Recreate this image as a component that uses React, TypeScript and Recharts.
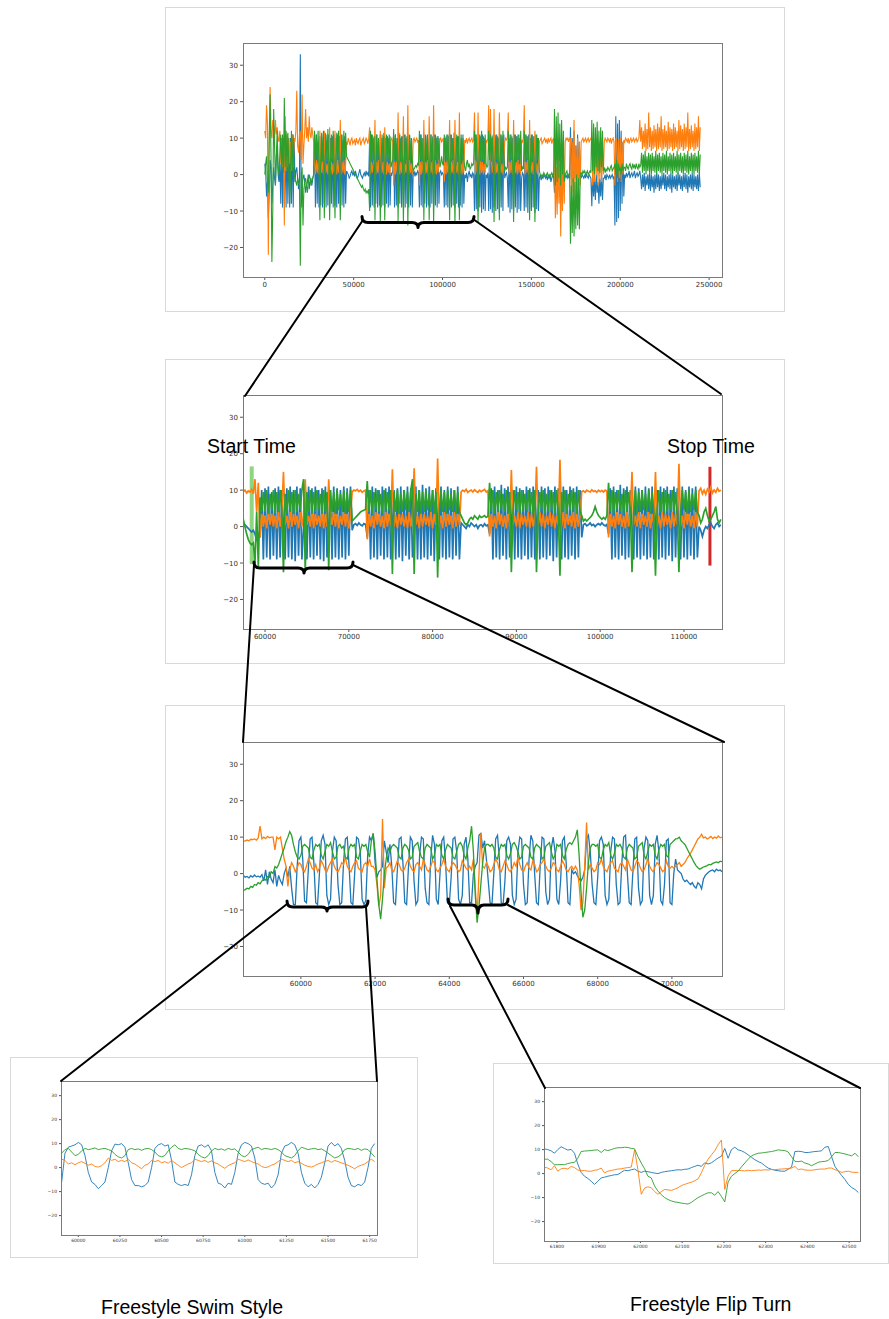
import React from "react";
import { LineChart, Line, XAxis, YAxis, ReferenceLine } from "recharts";

const BLUE = "#1f77b4";
const ORANGE = "#ff7f0e";
const GREEN = "#2ca02c";

const Y_DOMAIN: [number, number] = [-28.1, 36.1];
const Y_TICKS = [-20, -10, 0, 10, 20, 30];

// ---- panel 1: whole session, one sample per 500 (20 per row) ----
const P1_START = 0;
const P1_STEP = 500;
const P1_DOMAIN: [number, number] = [-12250, 257250];
const p1Ticks = [0, 50000, 100000, 150000, 200000, 250000];
const p1Blue = [
  3, 1, -6, -2, -12, -5, 4, 2, -8, -3, 2, -1, -3, 5, 8, 0, -2, 3, -8, 10,
  -9, 10, -8, 9, -9, 11, -8, 10, -9, 10, -8, 11, -9, 10, -2, 1, 2, -1, -4, -2,
  33, -9, -3, -1, 0, -2, -5, -3, -2, 0, -4, -2, -1, -3, -1, 0, 10, -9, 11, -8,
  9, -9, 10.5, -8.5, 11, -9, 10, -8, 11.5, -9, 9.5, -8.5, 11, -9, 10, -8, 10.5, -9, 11, -8.5,
  10, -9, 11, -8, 10.5, -9, 11, -8.5, 9.5, -9, 10.5, -8, 1, 0.5, 0, -1, -0.5, 0.5, 1, 0,
  0.5, -0.5, 1, 0, -1, -0.5, 0.5, 1.5, 0, -0.5, -1, 0, 0.5, -0.5, 1, 0, 0.5, -0.5, 10, -9,
  11, -8.5, 10, -9, 10.5, -8, 11, -9, 9.5, -8.5, 11, -9, 10, -8.5, 11.5, -9, 10, -8, 10.5, -9,
  11, -8.5, 0.5, 0, 1, 10.5, -9, 11, -8.5, 10, -9, 11.5, -8, 10, -9, 10.5, -8.5, 11, -9, 10,
  -8, 11, -9, 10.5, -8.5, 10, -9, 0, 1, -0.5, 0.5, 0, 1, 0.5, -9, 11, -8.5, 10, -9, 11,
  -8, 10.5, -9, 11, -8.5, 10, -9, 11, -8, 10.5, -9, 11, -8.5, 10, -9, 10.5, -8, 0.5, 1, 0,
  0.5, 0, -9, 10, -8.5, 11, -9, 10.5, -8, 11, -9, 10, -8.5, 11.5, -9, 10, -8, 10.5, -9, 11,
  -8.5, 10, -9, 11, -8, 0, -1, 0.5, -2, 0, 1, -0.5, 0, -1, 0.5, 0, -10, 11, -9.5, 10,
  -10, 11, -9, 10.5, -10.5, 11, -9.5, 10, -10, 0, -1, 0.5, -10, 11, -9.5, 10, -10.5, 11, -9, 10.5,
  -10, 11, -9.5, 10, -10.5, 11, -9, 10.5, -10, 11, -1, 0, 0.5, -1, -9, 10, -10.5, 11, -9.5, 10,
  -10, 11, -9, 10.5, -10.5, 11, -9.5, 10, -10, -1, 0.5, 0, -10, 11, -9, 10.5, -10.5, 11, -9.5, 10,
  -10, 11, -9, 10.5, -10.5, 11, -9.5, 10, -10, -1, 0, -1.5, -0.5, -1, 0, -0.5, -1, 0, -1.5, -0.5,
  -1, 0, -2, -1, 0, -0.5, -5, 0, -4, -1, -3, 0, -5, -2, -4, 0, -3, -1, 0, -1,
  0, -1, -0.5, -1, 13, -1, 10, -2, 12, -1, 8, 0, 11, -1, 9, 0, -1, 0, -0.5, -1,
  0, -1, 0, -0.5, -1, 0, -0.5, -1, -8.7, 0, -6, -1, -7, 0, -5, -2, -8, -1, -6, 0,
  -7, -1, -1, 0, -1.5, 0, -0.5, -1, 0, -1, -0.5, 0, -1, -0.5, -14, 16, -13, 14, -12, 15,
  -10, 12, -8, 9, -6, 0, -1, 0.5, -0.5, 0, 1, -1, 0, 0.5, -0.5, 0, 1, -1, 0, 0.5,
  -0.5, 0, 1, -1, -4, 0, -3.5, 0.5, -4.5, -0.5, -3, 0, -4, 0.5, -4.5, 0, -3.5, -0.5, -5, 0,
  -4, 0.5, -3.5, 0, -4.5, -0.5, -4, 0, -3, 0.5, -4, 0, -4.5, -0.5, -3.5, 0, -4, 0.5, -5, 0,
  -3.5, -0.5, -4, 0, -4.5, 0.5, -3, 0, -4, -0.5, -4.5, 0, -3.5, 0.5, -4, 0, -5, -0.5, -3.5, 0,
  -4, 0.5, -4.5, 0, -3.5, -0.5, -4, 0, -4.5, 0.5, -3.5,
];
const p1Orange = [
  12, 10, 19, 14, -22, 10, 24, 12, 10, 15, 13, 10, 15, 11, 13, 10, 9, 12, 3, 10,
  2, 10, -14, 16, 1, 11, 2, 10, 3, 9, 1, 11, 2, 10, 9, 12, 23, 8, 6, 11,
  12, 4, 22, 3, 8, 12, 18, 10, 13, 9, 16, 11, 10, 13, 11, 9, 3, 0, 4, 0.5,
  3.5, 0, 12, 3, 0.5, 4, 0, 12, 3.5, 0.5, 3, 0, 4, 13, 0.5, 3.5, 0, 3, 0.5, 12,
  3.5, 0, 4, 0.5, 3, 15, 0, 3.5, 0.5, 4, 0, 3, 9, 8.5, 10, 9, 8, 9.5, 10, 8.5,
  9, 9.5, 8, 10, 9, 8.5, 9.5, 10, 8, 9, 9.5, 10, 8.5, 9, 10, 9.5, 8.5, 10, 13, 0,
  3.5, 0.5, 3, 4, 15, 0, 3.5, 0.5, 4, 0, 12, 3, 0.5, 3.5, 0, 13, 4, 0, 3.5, 0.5,
  3, 0, 9.5, 10, 9, -3, 3.5, 0, 4, 0.5, 17, 3, 0, 3.5, 0.5, 4, 16, 0, 3, 0.5,
  3.5, 19, 0, 4, 0.5, 3, 0, 9.5, 10, 9, 9.5, 10, 9, 9.5, -3, 3.5, 0, 4, 0.5, 15,
  0, 3.5, 0.5, 4, 0, 16, 3, 0.5, 3.5, 0, 19, 0.5, 4, 0, 3, 0.5, 3.5, 9.5, 10, 9,
  9.5, 10, -2, 3.5, 0, 4, 0.5, 3, 15, 0, 3.5, 0.5, 4, 0, 15, 3, 0.5, 3.5, 0, 17,
  0.5, 3, 0, 4, 0.5, 9.5, 9, 10, 8.5, 9.5, 10, 9, 9.5, 10, 9, 9.5, 17, 0, 3.5, 0.5,
  17, 3, 0, 4, 0.5, 3.5, 0, 3, 0.5, 9.5, 9, 10, 19, 0, 18, 3.5, 0.5, 3, 18, 0,
  3.5, 0.5, 3, 0, 17, 4, 0.5, 3, 0, 3.5, 9, 10, 9.5, 10, 17, 0, 3.5, 0.5, 4, 0,
  15, 3, 0.5, 3.5, 0, 4, 0.5, 3, 0, 9.5, 9, 10, 19, 0, 3.5, 0.5, 4, 0, 15, 3,
  0.5, 3.5, 0, 4, 12, 0.5, 3, 0, 3.5, 9, 9.5, 10, 8.5, 9, 9.5, 10, 9, 9.5, 8.5, 10,
  9, 9.5, 10, 8.5, 9.5, 10, 4, -12, 2, -11, 5, -8, 3, -17, 4, -10, 5, -8, 9, 10,
  9.5, 10, 9, 10, 10, -7, 9, -5, 15, -6, 8, -4, 10, -7, 9, -3, 9, 9.5, 10, 9,
  9.5, 10, 9, 9.5, 10, 9, 9.5, 10, 10, -3, 9, -2, 10, 0, 8, -3, 9, -1, 10, -2,
  8, 0, 9, 10, 9.5, 9, 10, 9.5, 9, 10, 8.5, 9.5, 10, 9, -3, 10, 9, -2, 9.5, -1,
  10, -2, 9, 0, 9.5, 9, 10, 9.5, 9, 10, 8.5, 9.5, 10, 9, 9.5, 10, 9, 9.5, 10, 9,
  9.5, 10, 15, 9, 13, 7, 12, 7.5, 14, 6.5, 12.5, 7, 17, 7.5, 13, 6.5, 12, 7, 13.5, 7.5,
  12.5, 6.5, 14, 7, 13, 7.5, 16, 6.5, 12.5, 7, 13.5, 7.5, 12, 6.5, 14.5, 7, 13, 7.5, 12.5, 6.5,
  14, 7, 13, 7.5, 12, 6.5, 15, 7, 13.5, 7.5, 12.5, 6.5, 14, 7, 13, 7.5, 17, 6.5, 12.5, 7,
  13.5, 7.5, 12, 6.5, 14, 7, 13, 7.5, 16, 6.5, 13,
];
const p1Green = [
  0, 3, 5, -2, -5, 10, 22, 5, -24, -10, 18, 8, -3, 5, 12, 2, 0, 6, 11, 1,
  11, 0.5, 21, 2, 12, 1, 11.5, 3, -8, 0, 12, 1, 11, 0, -1, -2, -3, -1, -2, -3,
  -25, 0, 2, -14, -4, -2, -1, -3, -5, -2, 0, -1, -3, -2, -1, 0, 12, 3.5, 11, 4,
  12, 3, -12.5, 4, 11.5, 3.5, 12, -12, 3.5, 11, 4, 12.5, 3, -12.5, 4, 11, 3.5, 12, 4, -12,
  3.5, 11.5, 4, 12, 3, -12.5, 4, 11, 3.5, 12, 4, 11.5, 5, 4.5, 4, 3.5, 3, 2.5, 2, 1.5,
  1, 0.5, 0, -0.5, -1, -1.5, -2, -2.5, -3, -3.5, -3, -4, -4.5, -4, -5, -4.5, -5, -4, -10, 12,
  3.5, 11, 4, 10.5, -12.5, 3.5, 11, 4, 10, 3, -13, 4, 11, 3.5, 10.5, -12.5, 4, 11, 3.5, 10,
  4, 10.5, 2, 3, 4, 12.5, 4, 11, 3.5, 10, -13, 4, 11, 3.5, 10.5, 4, -13, 3.5, 11, 4,
  10.5, -14, 4, 11, 3.5, 10, 4, 1, 1.5, 2, 2.5, 2, 3, 2.5, 12, 4, 11, 3.5, 10, -12.5,
  4, 11, 3.5, 10.5, 4, -12.5, 3.5, 11, 4, 10, -13.5, 4, 11, 3.5, 10.5, 4, 10, 2, 3, 5,
  3, 2.5, 11, 4, 10.5, 3.5, 11, 4, -12.5, 3.5, 11, 4, 10, 3.5, -13.5, 4, 11, 3.5, 10.5, -12.5,
  4, 11, 3.5, 10, 4, 2, 1, 3, 4, 2, 3, 1.5, 2, 3, 2.5, 3, 12, 4, 11, 3.5,
  -13, 4, 11, 3.5, 12, 4, 10.5, 3, 11, 3, 2, 2.5, 12, 4, 11, 3.5, 10.5, 4, -13, 3.5,
  11, 4, 10.5, 3.5, -12.5, 4, 11, 3, 12, 4, 1, 2, 1.5, 2, 12, 3.5, 11, 4, 10.5, 3,
  -13, 4, 11, 3.5, 10.5, 4, 11, 3, 12, 1, 2, 1.5, 12, 3.5, 11, 4, 10.5, 3, -12.5, 4,
  11, 3.5, 10.5, 4, -13, 3.5, 11, 4, 10, 1, 0, -0.5, 0, -1, 0.5, 0, -0.5, 0, 0.5, -0.5,
  0, -0.5, 0, 0.5, -0.5, 0, 18, -3, 16, -2, 17, -1, 14, -3, 15, 0, 12, -2, 0, 0.5,
  1, -0.5, 0, 0.5, -19, -3, -16, -1, -17, -2, -15, 0, -14, -1, -15, 0, 0.5, 0, 1, 0.5,
  1, 0, 0.5, 1, 0, 0.5, 1, 0.5, 15, 1, 14, 0, 13, 2, 14.5, 1, 12, 0.5, 13, 2,
  12, 1, 2, 0.5, 1.5, 1, 2, 1.5, 1, 2, 2.5, 1, 1.5, 2, 3, 0, 4, -1, 3, 1,
  2, 0, 3, 1, 2, 2, 1, 3, 2, 1.5, 2.5, 3, 2, 1.5, 3, 2, 2.5, 1.5, 3, 2,
  1.5, 3, 2, 2.5, 6, 0.5, 5.5, 1, 6.5, 0, 5, 1, 6, 0.5, 5.5, 0, 6, 1, 5, 0.5,
  6.5, 0, 5.5, 1, 6, 0.5, 5, 0, 6, 1, 5.5, 0.5, 6.5, 0, 5, 1, 6, 0.5, 5.5, 0,
  6, 1, 5, 0.5, 6.5, 0, 5.5, 1, 6, 0.5, 5, 0, 6, 1, 5.5, 0.5, 6.5, 0, 5, 1,
  6, 0.5, 5.5, 0, 6, 1, 5, 0.5, 6.5, 0, 5.5,
];

// ---- panel 2: first swim set, one sample per 200 ----
const P2_START = 57400;
const P2_STEP = 200;
const P2_DOMAIN: [number, number] = [57370, 114540];
const p2Ticks = [60000, 70000, 80000, 90000, 100000, 110000];
const startMarker = { t: 58410, top: 16.5, bottom: -10.3 };
const stopMarker = { t: 113100, top: 16.4, bottom: -10.7 };
const p2Blue = [
  1, 0.5, 0, -0.5, -1, -1.5, -1, -2, -4, -2,
  -3, 10, -9, 10.5, -8.5, 11, -9, 9.5, -8, 10.5,
  -9, 11, -8.5, 10, 0, -9, 10.5, -8.5, 11, -9,
  10, -9.5, 11, -8, 10.5, -9, 0, 10, -9, 11,
  -8.5, 10.5, -9, 11, -8, 10, -9, 10.5, -9.5, 11,
  -8.5, 0, 10, -9, 11, -8.5, 10.5, -9, 10, -8.5,
  11, -9, 10.5, -8, 11, -1, 0.5, 0.8, 0.3, 1,
  0.5, 0.2, 0.8, 0.6, -3, 10, -9, 11, -8.5, 10.5,
  -9, 10, -8, 11, -9, 10.5, -8.5, 11, -9, 0,
  10, -9, 10.5, -8.5, 11, -9.5, 10, -8, 11, -9,
  10.5, -8.5, 0, 11, -9, 10, -9, 11.5, -8.5, 10.5,
  -9, 11, -8, 10, -9.5, 10.5, 0, -9, 11, -8.5,
  10, -9, 11, -8.5, 10.5, -9, 10, -8, 11, -9,
  1, 0.5, 0, -0.5, 0.5, 0, 1, 0.5, 0, 0.5,
  -0.5, 0.3, 0.5, 0, 0.8, 0.2, 0.5, -2, 10.5, -9,
  11, -8.5, 10, -9, 11.5, -8, 10.5, -9, 11, -8.5,
  0, 10, -9, 11, -8.5, 10.5, -9, 10, -8, 11,
  -9, 10.5, -8.5, 11, -9, 0, 10, -9, 11, -8.5,
  10.5, -9, 11, -8, 10, -9.5, 11, -8.5, 10.5, 0,
  -9, 11, -8.5, 10, -9, 11, -8, 10.5, -9, 11,
  -8.5, 10, -3, 0.5, 0.8, 0.2, 0.5, 1, 0.3, 0.6,
  0, 0.5, 0.8, 0.4, 1, 0.5, 0.2, 0.6, -2, 10.5,
  -9, 11, -8.5, 10, -9, 11.5, -8, 10.5, -9, 11,
  -8.5, 10, 0, -9, 11, -8.5, 10.5, -9, 10, -8,
  11, -9, 10.5, -8.5, 11, -9, 0, 10, -9, 11,
  -8.5, 10.5, -9, 11, -8, 10, -9.5, 11, -8.5, 10.5,
  0, -9, 11, -8.5, 10, -9, 11, -8, 10.5, -9,
  11, -8.5, 0, -1, -2.7, -1, 0, -0.5, 0.5, 1,
  0, -0.5, 0.5, 1, 0, 0.5,
];
const p2Orange = [
  9.5, 10, 9.2, 9.8, 9.5, 10.2, 9, 13, 4, 12,
  -3, 3.5, 0, 3, -0.5, 4, 0.5, 3.5, 0, 3,
  -0.5, 4, 0, 3.5, 15, 0.5, 3, -0.5, 4, 0,
  3.5, 0.5, 3, -0.5, 4, 0, 3.5, 13, 0.5, 3,
  0, 4, -0.5, 3.5, 0.5, 3, 0, 4, -0.5, 3.5,
  0, 13, 3, 0.5, 4, 0, 3.5, -0.5, 3, 0.5,
  4, 0, 3.5, -0.5, 3, 9.5, 10, 9.8, 10.2, 9.6,
  10, 9.4, 9.8, 10, -3.5, 3.5, 0, 3, -0.5, 4,
  0.5, 3.5, 0, 3, -0.5, 4, 0, 3.5, 0.5, 15.7,
  0, 3, -0.5, 4, 0.5, 3.5, 0, 3, -0.5, 4,
  0, 3.5, 16, 0.5, 3, -0.5, 4, 0, 3.5, 0.5,
  3, 0, 4, -0.5, 3.5, 0.5, 18.7, 0, 3, -0.5,
  4, 0, 3.5, 0.5, 3, -0.5, 4, 0, 3.5, 0.5,
  9.5, 10, 9.6, 10.2, 9.4, 9.8, 10, 9.5, 10.1, 9.7,
  9.4, 10, 9.6, 9.9, 10.2, 9.5, 9.8, -2.7, 3.5, 0,
  3, -0.5, 4, 0.5, 3.5, 0, 3, -0.5, 4, 0,
  15.5, 0.5, 3, 0, 4, -0.5, 3.5, 0.5, 3, 0,
  4, -0.5, 3.5, 0, 3, 16.4, 0.5, 4, 0, 3.5,
  -0.5, 3, 0.5, 4, 0, 3.5, -0.5, 3, 0.5, 18.3,
  0, 4, -0.5, 3.5, 0.5, 3, 0, 4, -0.5, 3.5,
  0, 3, 9.6, 9.8, 9.4, 10, 9.7, 9.5, 10.1, 9.6,
  9.8, 9.4, 10, 9.6, 9.9, 9.5, 10, 9.7, -3, 3.5,
  0, 3, -0.5, 4, 0.5, 3.5, 0, 3, -0.5, 4,
  0, 3.5, 15, 0.5, 3, 0, 4, -0.5, 3.5, 0.5,
  3, 0, 4, -0.5, 3.5, 0.5, 15, 0, 3, -0.5,
  4, 0, 3.5, 0.5, 3, -0.5, 4, 0, 3.5, 0.5,
  17.2, 0, 3, -0.5, 4, 0.5, 3.5, 0, 3, -0.5,
  4, 0, 9.8, 10.5, 9, 10, 8.8, 10.3, 9.5, 10.8,
  9.2, 10, 9.4, 10.5, 9.7, 10,
];
const p2Green = [
  2, 0, -2, -3.5, -4.5, -5, -4.5, -10, 4, -11,
  8, 4, 9.5, 4, 10, 3.5, 9, 4.5, 10, 3.5,
  9.5, 4, 10, 4, -12.5, 9, 3.5, 10, 4, 9.5,
  3.5, 10, 4, 9, 4.5, 10, 13, -12.5, 9.5, 4,
  10, 3.5, 9.5, 4, 10, 4.5, 9, 3.5, 10, 4,
  9.5, -12, 10, 4, 9.5, 3.5, 10, 4.5, 9, 4,
  10, 3.5, 9.5, 4, 10, 1.5, 2, 2.5, 3, 3.5,
  4, 4.3, 4.5, 4.7, 12.5, 4, 10, 3.5, 9.5, 4.5,
  10, 4, 9, 3.5, 10, 4, 9.5, 4.5, 10, -13,
  9.5, 4, 10, 3.5, 9, 4, 10, 4.5, 9.5, 4,
  10, 13, -13, 9, 4, 10, 3.5, 9.5, 4, 10,
  4.5, 9, 4, 10, 3.5, 9.5, -14, 4, 10, 4,
  9.5, 3.5, 10, 4.5, 9, 4, 10, 3.5, 9.5, 4,
  3, 2, 1, 0.5, 1, 2, 2.5, 2, 3, 2.5,
  2, 3, 2.5, 2.7, 3, 2.5, 2.8, 12, 4, 10,
  3.5, 9.5, 4, 10, 4.5, 9, 4, 10, 3.5, 9.5,
  -12.5, 4, 10, 4.5, 9.5, 3.5, 10, 4, 9, 4.5,
  10, 4, 9.5, 3.5, 10, -12.5, 4, 9.5, 4.5, 10,
  3.5, 9, 4, 10, 4.5, 9.5, 3.5, 10, 4, -13.5,
  9.5, 4, 10, 3.5, 9, 4.5, 10, 4, 9.5, 3.5,
  10, 4, 3, 1.5, 2, 1.5, 2, 2.5, 3, 4,
  5.5, 4, 3, 2.5, 2, 2.5, 2, 3, 12, 4,
  10, 3.5, 9.5, 4.5, 10, 4, 9, 3.5, 10, 4,
  9.5, 4.5, -12.5, 4, 10, 3.5, 9.5, 4, 10, 4.5,
  9, 4, 10, 3.5, 9.5, 4, -13.5, 4.5, 10, 4,
  9.5, 3.5, 10, 4, 9, 4.5, 10, 4, 9.5, 3.5,
  -12.5, 4, 10, 4.5, 9.5, 3.5, 10, 4, 9, 4.5,
  10, 4, 3, 1, 2, 4, 5, 3, 1.5, 2,
  3, 4, 5.5, 2, 1, 2,
];

// ---- panel 3: a few lengths, one sample per 50 ----
const P3_START = 58450;
const P3_STEP = 50;
const P3_DOMAIN: [number, number] = [58440, 71350];
const p3Ticks = [60000, 62000, 64000, 66000, 68000, 70000];
const p3Blue = [
  -0.5, -1, -0.8, -1.2, -0.6, -1, -0.4, -0.9, -0.7, -1,
  -0.3, -2, 1, -3, 0.5, -1.5, -2.5, 1, -3.5, -0.5,
  -2, -3, 0, 1.5, -1, 2, -4, -8.5, -8.5, 2,
  9, 10, 4, -7.5, -8, 1, 9.5, 10, 3, -8,
  -8.5, 0, 9, 10.5, 8, -6, -8.5, -7, 6, 10,
  9, -3, -8.5, -8, 3, 9.5, 10, 2, -8, -8.5,
  0, 10, 9.5, 6, -7, -8.5, -7.5, 5, 10, 9,
  11, 3, -1, 0.5, 1, 2, 9, 6, 3, 8,
  2, -8, -8.5, 1, 9.5, 10, 3, -8, -8.5, 2,
  10, 9, -2, -8.5, -7.5, 5, 10, 9.5, -4, -8,
  -8.5, 4, 10.5, 8, -7, -8.5, 0, 9, 10, 3,
  -8, -8.5, -1, 9.5, 10, 6, -7, -8.5, -6, 8,
  10, 4, -8, -8, 0, 2, 3, 10.5, 11, 7,
  9, 4, -2, -8, -8.5, 0, 9.5, 10.5, 4, -8,
  -8.5, -2, 9, 10, 8, -6, -8.5, -7, 6, 10,
  9.5, -3, -8.5, -8, 4, 10.5, 9, 0, -8, -8.5,
  2, 10, 9.5, -5, -8.5, -7, 7, 10, 6, -7,
  -8.5, -2, 9, 10, 3, -8, -8.5, 1, 0, 0.5,
  -0.5, -1.5, -2, -1, 1, 9.5, 10.5, 6, -3, -8,
  -8.5, -1, 9, 10, 8, -6, -8.5, -7, 6, 10,
  9.5, -3, -8.5, -8, 3, 10, 10.5, 0, -8, -8.5,
  1, 9.5, 10, -4, -8.5, -7.5, 7, 10, 9, -6,
  -8.5, -6, 8, 10.5, 6, -7.5, -8.5, -3, 9, 9.5,
  -8, -8.5, 0, 4, 1, 0.5, 0, -1.5, -2.2, -1.8,
  -2.5, -3, -2.5, -3.5, -4, -2.5, -3, -4.2, -1.5, -0.5,
  0, 0.5, 0.8, 1, 0.5, 1.2, 0.8, 1, 0.5,
];
const p3Orange = [
  8.8, 9, 9.2, 9, 9.4, 9.3, 9.5, 9.2, 9.8, 13,
  9.5, 10, 9.6, 10.2, 9.8, 10, 10, 6.5, 10, 9.5,
  10, 7, 4, 2, -3.5, 1, 3, 2, 0.5, 1.5,
  3, 2.5, 1, 0.5, 2, 4, 3, 1.5, 1, 2.5,
  0.5, 1.5, 3.5, 2.5, 1, 0.5, 2, 3, 4, 2,
  1, 0.5, 1.5, 3, 2.5, 4.5, 2, 1, 0.5, 2,
  3, 3.5, 1.5, 1, 0.5, 2.5, 3, 2, 4, 2,
  2, 1, -3, -9, -6, 15, -4, 1.5, 2, 3,
  1, 0.5, 2, 3.5, 2.5, 1, 0.5, 1.5, 3, 4,
  2, 1, 0.5, 2.5, 3, 2, 1, 4, 2.5, 1,
  0.5, 2, 3.5, 3, 1, 0.5, 1.5, 2.5, 4, 2,
  1, 0.5, 2, 3, 2.5, 1.5, 0.5, 1, 3.5, 2.5,
  1.5, 1, 2, 1, 4, -4, -12, 0, 11, 2,
  1.5, 3, 2, 0.5, 1, 2.5, 4, 3, 1, 0.5,
  2, 3.5, 2.5, 1, 0.5, 1.5, 3, 2, 4.5, 2.5,
  1, 0.5, 2, 3, 1.5, 1, 3.5, 2.5, 0.5, 1,
  2.5, 3, 4, 2, 1, 0.5, 1.5, 3, 2.5, 1,
  0.5, 2, 3.5, 2.5, 1, 0.5, 1.5, 2, 1, 2,
  1, -3, -10, -8, 2, 14, 1, 2.5, 1.5, 0.5,
  1, 3, 2.5, 4, 2, 1, 0.5, 2, 3, 3.5,
  1.5, 1, 0.5, 2.5, 3, 2, 1, 4, 2.5, 1,
  0.5, 2, 3.5, 3, 1.5, 0.5, 1, 2.5, 4, 2,
  1, 0.5, 2, 3, 2.5, 1.5, 0.5, 1, 3.5, 2,
  1.5, 2, 1.5, 2, 2.5, 3, 2, 2.5, 3, 4,
  4.8, 5.5, 6.5, 7.5, 8.5, 9.5, 10, 10.8, 9.8, 10,
  9.5, 9.8, 10.2, 9.6, 10, 9.7, 10.3, 9.8, 10,
];
const p3Green = [
  -4.6, -4.4, -4, -4.2, -3.5, -3.8, -3, -3.2, -2.5, -2.8,
  -2, -1.5, -1.8, -0.8, -1, 0.5, 0, 1.9, 1.5, 2.5,
  4, 5.6, 7, 8.8, 10, 11.5, 10.5, 8, 6, 4.5,
  4, 5, 7.5, 8, 7.5, 7, 4.5, 4, 6.5, 8,
  7.5, 8, 5, 4, 6, 8, 7.5, 8.5, 6, 4,
  4.5, 7.5, 8, 7, 7.5, 4.5, 4, 7, 8, 7.5,
  8, 4.5, 4, 6, 8, 7.5, 8, 6, 4.5, 9,
  11, 6, -1.5, -8.5, -12.5, -7, 0, 4, 7, 6,
  7.5, 8, 7.5, 7, 4.5, 4, 7, 8, 7.5, 6.5,
  4, 4.5, 7.5, 8, 8.5, 6, 4.5, 4, 7, 8,
  7.5, 7, 4, 5, 8, 7.5, 8, 5, 4, 6.5,
  8, 7.5, 7, 4.5, 4, 6, 8, 8.5, 7.5, 5,
  4, 7, 9, 13, 6, -6, -13.5, -9, -3, 3,
  7, 8, 8, 7.5, 8, 7, 4.5, 4, 6.5, 8,
  7.5, 8, 5, 4, 5.5, 8, 8.5, 7.5, 6, 4,
  4.5, 7.5, 8, 7.5, 7, 4.5, 4, 7, 8, 7.5,
  7, 4, 4.5, 7.5, 8, 8.5, 6, 4, 5, 8,
  7.5, 8, 5, 4, 6.5, 8, 8.5, 8, 9, 10,
  12, 5, -5, -12, -10, -4, 3, 7, 8, 8,
  7.5, 8, 4.5, 4, 6.5, 8, 7.5, 8.5, 5, 4,
  5.5, 8, 7.5, 8, 7, 4.5, 4, 7, 8, 7.5,
  7, 4, 4.5, 7.5, 8, 8.5, 5, 4, 6, 8,
  7.5, 8, 5, 4, 6.5, 8, 7.5, 8, 5, 4.5,
  8, 8.5, 9, 9.5, 9.6, 10, 9, 8.5, 8, 7,
  6, 5, 4, 3, 2.2, 1.6, 1.2, 1.5, 1.8, 2,
  2.2, 2.5, 2.4, 2.8, 3, 3.2, 3, 3.4, 3.3,
];

// ---- bottom left: freestyle strokes, one sample per 20 ----
const P4_START = 59900;
const P4_STEP = 20;
const P4_DOMAIN: [number, number] = [59896, 61794];
const p4Ticks = [60000, 60250, 60500, 60750, 61000, 61250, 61500, 61750];
const p4Blue = [
  -6, 6, 8.5, 9, 9.5, 10.5, 9.5, 5, -2, -6,
  -7, -8.8, -7.5, -6, 0, 7, 9.8, 9.5, 10, 8.5,
  2, -5, -7.5, -7.5, -8, -7.5, -6, 0, 8, 9.5,
  10, 9, 9.5, 3, -6, -7, -7.5, -7, -7.5, -3,
  5, 9, 9.5, 8.5, 9.5, 7, -2, -6.5, -7, -8.5,
  -6.5, -7, -2, 6, 9.5, 10.5, 10, 9, 4, -5,
  -6.5, -7, -6.5, -8.5, -7, -3, 6, 9, 9.5, 10.5,
  9.5, 6, -2, -6.5, -8, -7, -8.5, -7, -4, 2,
  9, 10.5, 9, 10, 8, 3, -4, -7.5, -8, -7,
  -7.5, -6, 0, 8, 10,
];
const p4Orange = [
  3.5, 3, 1.5, 2, 1.2, 2, 2.5, 1.8, 1, 1.5,
  0.5, 0.2, 0.8, 2, 4, 3, 3.5, 2.5, 3, 2.5,
  3.5, 2, 1.5, 0.5, -0.5, 1, 1.5, 3, 2.5, 3,
  2, 2.5, 1.8, 3, 2, 1, 0, 0.8, 1.5, 2,
  3.5, 3, 2.5, 3, 2.2, 2.8, 2, 1.5, 0.5, -0.3,
  0.8, 1.5, 2, 3.5, 3, 2.5, 3.2, 2.5, 2, 1.5,
  0.5, 0, 0.3, 1, 1.5, 2.5, 3.5, 3, 2.5, 3,
  2, 2.5, 1.8, 1, 0.5, 0.2, 0.8, 1.5, 2, 2.5,
  3, 2.2, 3, 2.5, 2, 1.5, 1, 0.3, -0.5, 0.5,
  1, 1.5, 2.5, 3.5, 2.5,
];
const p4Green = [
  6, 7.5, 8, 6.5, 5, 5.5, 7, 8, 7.5, 7.8,
  8.2, 7.5, 7.8, 8, 7.5, 7, 5.5, 4.5, 4, 5,
  7.5, 8, 7.5, 7.8, 7.2, 7.8, 8, 7.5, 6.5, 5,
  4.5, 5, 7, 8.5, 9.5, 8, 7.5, 8, 7.8, 7.5,
  7, 5.5, 4.5, 4, 5, 7, 8, 7.5, 7.8, 7.2,
  8, 7.5, 7.8, 6.5, 5, 4.5, 5.5, 7.5, 8, 8.5,
  7.5, 8, 7.8, 7.5, 8, 7.5, 6.5, 5, 4.5, 4,
  5, 7, 8.5, 8, 7.5, 7.8, 8, 7.5, 7.8, 7,
  6, 5, 4, 4.5, 5.5, 7.5, 8, 7.8, 7.5, 8,
  7.2, 7.8, 7.5, 6, 4.5,
];

// ---- bottom right: flip turn, one sample per 8 ----
const P5_START = 61770;
const P5_STEP = 8;
const P5_DOMAIN: [number, number] = [61769, 62526];
const p5Ticks = [61800, 61900, 62000, 62100, 62200, 62300, 62400, 62500];
const p5Blue = [
  10.3, 10, 9.5, 8.5, 10, 11.2, 10.5, 9.8, 10.1, 8.5,
  4, 0.5, -1.1, -2, -3.2, -4.5, -3.2, -1.8, -1.5, -1.1,
  -0.8, -0.5, -0.4, 0.5, 1.4, 1.2, 1.6, 1.9, 1, 0.5,
  1, 0.8, 0.5, 0.2, 0, 0.5, 0.8, 1, 1.2, 1.4,
  1.6, 1.5, 1.8, 1.9, 2.5, 3, 3.5, 3, 4.5, 4,
  4.5, 5.5, 6.5, 7.2, 10.5, 6.4, 10, 11, 9.9, 9.5,
  8.8, 7.8, 6.8, 5.8, 5, 4.4, 3.3, 2.3, 1.8, 1.4,
  1.2, 1, 1, 1.8, 2.7, 9.2, 9.3, 9.2, 8.8, 8.8,
  9, 9.2, 9.3, 9.5, 11, 11.3, 7, 3, 1, -0.8,
  -2.5, -4.5, -5.8, -6.6, -7.9,
];
const p5Orange = [
  2.7, 2.3, 1.6, 3.3, 1, 2, 2.2, 1.9, 3, 2.5,
  1.5, 1.2, 1.3, 1, 1, 1.4, 1.6, 2.3, 0.3, 1,
  1.3, 1.6, 1.9, 2, 2.3, 2.5, 2.7, 9.9, 1.6, -8.6,
  -6, -5.5, -5.9, -7.5, -8.6, -7.5, -6.6, -6.8, -7, -6.5,
  -5.9, -5, -4.5, -4, -3.6, -3, -2.2, 0.3, 3.5, 6,
  7.8, 9.5, 12, 14, -6.6, -1, 1.2, 1.3, 1.2, 1.3,
  1.1, 1.4, 1.2, 1.3, 1.5, 1.4, 1.6, 1.5, 1.7, 1.6,
  1.8, 1.9, 2, 2.1, 2.3, 3, 1.7, 1.9, 1.5, 1.4,
  1.4, 1.6, 1.8, 1.9, 1.9, 2.3, 2.3, 1.6, 1.2, 0.5,
  0.8, 1, 0.6, 0.5, 0.5,
];
const p5Green = [
  6, 6, 5, 3.7, 3.7, 3.8, 3.7, 4.2, 4.5, 4.7,
  6.4, 9.2, 9.4, 9.5, 9.6, 9.8, 9.9, 8.8, 10, 9.6,
  10, 10.5, 10.8, 10.8, 11, 10.9, 10.5, 10.3, 7.1, 4.4,
  2, -1.1, -1.8, -5.2, -7.3, -8.8, -10, -10.8, -11.4, -11.8,
  -12, -12.3, -12.5, -12.7, -12, -11, -10, -9.3, -8.6, -8,
  -8, -9, -7.5, -9.5, -11.8, -3.5, -1.1, 0, 1, 2.8,
  4.4, 6, 7.4, 8, 8.5, 8.6, 8.8, 9, 9.2, 9.5,
  9.9, 9.7, 9.6, 9, 7, 5.1, 5, 5.2, 4.4, 4,
  3.3, 4, 4.7, 5, 5.1, 5.5, 7, 8.8, 8.8, 8.5,
  8.2, 7.8, 7.4, 8.5, 7,
];

type Row = { t: number; blue: number; orange: number; green: number };

function buildRows(start: number, step: number, blue: number[], orange: number[], green: number[]): Row[] {
  return blue.map((b, i) => ({ t: start + step * i, blue: b, orange: orange[i], green: green[i] }));
}

const fmtY = (v: number) => (v < 0 ? "\u2212" + Math.abs(v) : String(v));

interface PanelProps {
  frame: [number, number, number, number];
  plot: [number, number, number, number];
  domain: [number, number];
  ticks: number[];
  rows: Row[];
  lineWidth: number;
  fontSize: number;
  tickSize: number;
  extra?: React.ReactNode;
}

function Panel({ frame, plot, domain, ticks, rows, lineWidth, fontSize, tickSize, extra }: PanelProps) {
  const [l, t, w, h] = plot;
  const tickStyle = { fontSize, fill: "#333", fontFamily: "DejaVu Sans, sans-serif" };
  return (
    <>
      <div
        style={{
          position: "absolute",
          left: frame[0],
          top: frame[1],
          width: frame[2],
          height: frame[3],
          border: "1px solid #d9d9d9",
          boxSizing: "border-box",
          background: "#fff",
        }}
      />
      <div style={{ position: "absolute", left: l - 40, top: t - 5 }}>
        <LineChart width={w + 45} height={h + 25} data={rows} margin={{ top: 5, right: 5, bottom: 0, left: 0 }}>
          <XAxis
            dataKey="t"
            type="number"
            domain={domain}
            allowDataOverflow
            ticks={ticks}
            interval={0}
            height={20}
            axisLine={false}
            tickLine={{ stroke: "#555" }}
            tickSize={tickSize}
            tick={tickStyle}
          />
          <YAxis
            type="number"
            domain={Y_DOMAIN}
            allowDataOverflow
            ticks={Y_TICKS}
            interval={0}
            width={40}
            axisLine={false}
            tickLine={{ stroke: "#555" }}
            tickSize={tickSize}
            tick={tickStyle}
            tickFormatter={fmtY}
          />
          {extra}
          <Line type="linear" dataKey="blue" stroke={BLUE} strokeWidth={lineWidth} dot={false} isAnimationActive={false} />
          <Line type="linear" dataKey="orange" stroke={ORANGE} strokeWidth={lineWidth} dot={false} isAnimationActive={false} />
          <Line type="linear" dataKey="green" stroke={GREEN} strokeWidth={lineWidth} dot={false} isAnimationActive={false} />
        </LineChart>
      </div>
      <div
        style={{
          position: "absolute",
          left: l,
          top: t,
          width: w + 1,
          height: h + 1,
          border: "1px solid #7a7a7a",
          boxSizing: "border-box",
          pointerEvents: "none",
        }}
      />
    </>
  );
}

// curly brace under a zoomed span: ends curl up, small notch at cx
function brace(x1: number, x2: number, y: number, cx: number, dip: number) {
  return `M${x1},${y - 6} Q${x1},${y} ${x1 + 6},${y} L${cx - 6},${y} Q${cx},${y} ${cx},${y + dip} Q${cx},${y} ${cx + 6},${y} L${x2 - 6},${y} Q${x2},${y} ${x2},${y - 6}`;
}

export default function App() {
  const rows1 = buildRows(P1_START, P1_STEP, p1Blue, p1Orange, p1Green);
  const rows2 = buildRows(P2_START, P2_STEP, p2Blue, p2Orange, p2Green);
  const rows3 = buildRows(P3_START, P3_STEP, p3Blue, p3Orange, p3Green);
  const rows4 = buildRows(P4_START, P4_STEP, p4Blue, p4Orange, p4Green);
  const rows5 = buildRows(P5_START, P5_STEP, p5Blue, p5Orange, p5Green);

  const markers = [
    <ReferenceLine
      key="start"
      segment={[
        { x: startMarker.t, y: startMarker.top },
        { x: startMarker.t, y: startMarker.bottom },
      ]}
      stroke="#8fd47f"
      strokeWidth={4}
    />,
    <ReferenceLine
      key="stop"
      segment={[
        { x: stopMarker.t, y: stopMarker.top },
        { x: stopMarker.t, y: stopMarker.bottom },
      ]}
      stroke="#d62728"
      strokeWidth={3}
    />,
  ];

  const textStyle = { fontFamily: "Liberation Sans, Arial, sans-serif", fontSize: 19.5, fill: "#000" };

  return (
    <div style={{ position: "absolute", left: 0, top: 0, width: 889, height: 1319, background: "#fff", overflow: "hidden" }}>
      <Panel frame={[165, 7, 620, 305]} plot={[243, 43, 479, 234]} domain={P1_DOMAIN} ticks={p1Ticks} rows={rows1} lineWidth={1.1} fontSize={7} tickSize={3} />
      <Panel frame={[165, 359, 620, 305]} plot={[243, 395, 479, 234]} domain={P2_DOMAIN} ticks={p2Ticks} rows={rows2} lineWidth={1.7} fontSize={7} tickSize={3} extra={markers} />
      <Panel frame={[165, 705, 620, 305]} plot={[243, 742, 479, 234]} domain={P3_DOMAIN} ticks={p3Ticks} rows={rows3} lineWidth={1.3} fontSize={7} tickSize={3} />
      <Panel frame={[10, 1057, 408, 201]} plot={[61, 1081, 316, 154]} domain={P4_DOMAIN} ticks={p4Ticks} rows={rows4} lineWidth={0.9} fontSize={4.5} tickSize={2} />
      <Panel frame={[493, 1063, 396, 201]} plot={[544, 1087, 316, 154]} domain={P5_DOMAIN} ticks={p5Ticks} rows={rows5} lineWidth={0.9} fontSize={4.5} tickSize={2} />

      <svg width={889} height={1319} style={{ position: "absolute", left: 0, top: 0, pointerEvents: "none" }}>
        <g fill="none" stroke="#000" strokeLinecap="round" strokeLinejoin="round">
          <path d={brace(362, 474, 222.5, 418, 5)} strokeWidth={3} />
          <path d={brace(254, 353, 568, 304, 5)} strokeWidth={3} />
          <path d={brace(287, 368, 907, 327, 4)} strokeWidth={3} />
          <path d={brace(448, 508, 905, 478, 8)} strokeWidth={3} />
          <line x1={363} y1={220} x2={245} y2={396} strokeWidth={2} />
          <line x1={473} y1={219} x2={721} y2={394} strokeWidth={2} />
          <line x1={254} y1={565} x2={243} y2={742} strokeWidth={2} />
          <line x1={353} y1={565} x2={724} y2={742} strokeWidth={2} />
          <line x1={287} y1={904} x2={61} y2={1081} strokeWidth={2} />
          <line x1={366} y1={907} x2={377} y2={1081} strokeWidth={2} />
          <line x1={450} y1={906} x2={545} y2={1088} strokeWidth={2} />
          <line x1={508} y1={905} x2={860} y2={1088} strokeWidth={2} />
        </g>
        <text x={207} y={453} style={textStyle}>Start Time</text>
        <text x={667} y={453} style={textStyle}>Stop Time</text>
        <text x={101} y={1314} style={textStyle}>Freestyle Swim Style</text>
        <text x={630} y={1311} style={textStyle}>Freestyle Flip Turn</text>
      </svg>
    </div>
  );
}
